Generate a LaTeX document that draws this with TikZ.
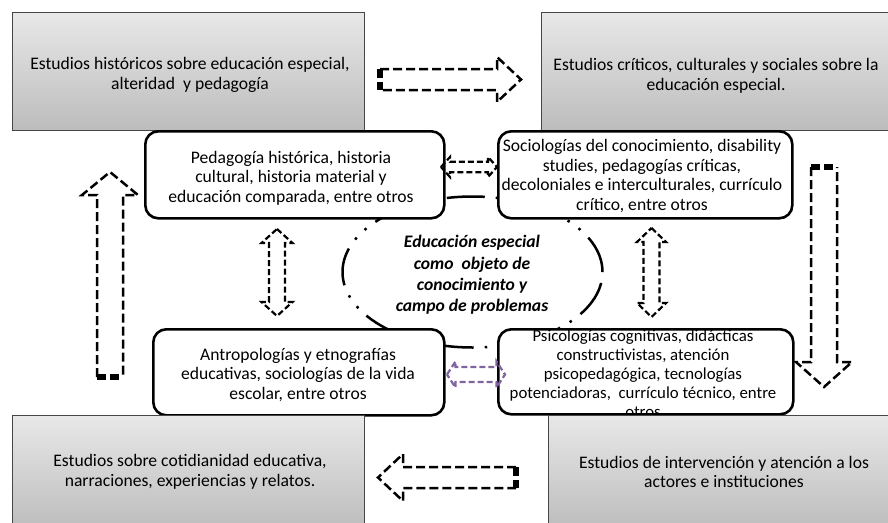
\documentclass[tikz,border=0pt]{standalone}
\usepackage{fontspec}
\setmainfont{Carlito}
\definecolor{glight}{RGB}{232,232,232}
\definecolor{gdark}{RGB}{188,188,188}
\definecolor{gedge}{RGB}{70,70,70}
\definecolor{lilac}{RGB}{128,100,162}
\tikzset{
  graybox/.style={draw=gedge, line width=0.9pt, inner sep=0pt, anchor=north west, top color=glight, bottom color=gdark},
  rbox/.style={draw=black, fill=white, line width=2.6pt, rounded corners=13pt, inner sep=0pt, anchor=north west},
  txt/.style={align=center, inner sep=0pt, font=\fontsize{17.6pt}{19.5pt}\selectfont},
  txtsmall/.style={align=center, inner sep=0pt, font=\fontsize{16.8pt}{19pt}\selectfont},
  etxt/.style={align=center, inner sep=0pt, font=\fontsize{17.6pt}{21.3pt}\selectfont\bfseries\itshape},
  ellipsedash/.style={draw=black, line width=2.5pt, dash pattern=on 38pt off 11pt on 2.5pt off 11pt on 2.5pt off 11pt},
  bigarrow/.style={draw=black, line width=2.5pt, dash pattern=on 9pt off 4pt, line join=miter},
  smallarrow/.style={draw=black, line width=2.2pt, dash pattern=on 6pt off 3pt, line join=miter},
  tailmark/.style={draw=black, line width=6pt, dash pattern=on 9pt off 4pt on 9pt},
}
\begin{document}
\begin{tikzpicture}[x=1pt,y=-1pt]
\useasboundingbox (0,0) rectangle (888,522);

% top gray boxes
\node[graybox, minimum width=352pt, minimum height=118pt] (gTL) at (12,12) {};
\node[graybox, minimum width=360pt, minimum height=118pt] (gTR) at (541,12) {};

% central ellipse
\draw[ellipsedash] (472.5,272) ellipse [x radius=130pt, y radius=75.5pt];

% rounded boxes
\node[rbox, minimum width=299pt, minimum height=87pt] (rTL) at (144,130) {};
\node[rbox, minimum width=294pt, minimum height=87pt] (rTR) at (497,130) {};
\node[rbox, minimum width=291pt, minimum height=86pt] (rBL) at (152,328) {};
\node[rbox, minimum width=295pt, minimum height=85pt] (rBR) at (497,328) {};

% texts
\node[txt] (tTL) at (190,75) {Estudios históricos sobre educación especial,\\alteridad\ \ y pedagogía};
\node[txt] (tTR) at (716,76) {Estudios críticos, culturales y sociales sobre la\\educación especial.};
\node[txt] (trTL) at (291,178) {Pedagogía histórica, historia\\cultural, historia material y\\educación comparada, entre otros};
\node[txt] (trTR) at (642,176) {Sociologías del conocimiento, disability\\studies, pedagogías críticas,\\decoloniales e interculturales, currículo\\crítico, entre otros};
\node[txt] (trBL) at (298,375) {Antropologías y etnografías\\educativas, sociologías de la vida\\escolar, entre otros};
\node[txtsmall] (trBR) at (643,374) {Psicologías cognitivas, didácticas\\constructivistas, atención\\psicopedagógica, tecnologías\\potenciadoras,\ \ currículo técnico, entre\\otros};
\node[etxt] (tE) at (472,275) {Educación especial\\como\ \ objeto de\\conocimiento y\\campo de problemas};

% bottom gray boxes (drawn over overflowing text)
\node[graybox, minimum width=352pt, minimum height=115pt] (gBL) at (12,415) {};
\node[graybox, minimum width=345pt, minimum height=115pt] (gBR) at (548,415) {};
\node[txt] (tBL) at (190,472) {Estudios sobre cotidianidad educativa,\\narraciones, experiencias y relatos.};
\node[txt] (tBR) at (724,472) {Estudios de intervención y atención a los\\actores e instituciones};

% big block arrows
\coordinate (a1t1) at (380,69); \coordinate (a1t2) at (380,90);
\draw[bigarrow] (a1t1) -- (497,69) -- (497,57) -- (521,79.5) -- (497,102) -- (497,90) -- (a1t2);
\draw[tailmark] (a1t1) -- (a1t2);

\coordinate (a2t1) at (811,167); \coordinate (a2t2) at (837,167);
\draw[bigarrow] (a2t1) -- (811,362) -- (796,362) -- (824,387) -- (852,362) -- (837,362) -- (a2t2);
\draw[tailmark] (a2t1) -- (a2t2);

\coordinate (a3t1) at (516,467); \coordinate (a3t2) at (516,488);
\draw[bigarrow] (a3t1) -- (403,467) -- (403,454) -- (378,477.5) -- (403,501) -- (403,488) -- (a3t2);
\draw[tailmark] (a3t1) -- (a3t2);

\coordinate (a4t1) at (97,377); \coordinate (a4t2) at (123,377);
\draw[bigarrow] (a4t1) -- (97,195) -- (82,195) -- (110,172) -- (138,195) -- (123,195) -- (a4t2);
\draw[tailmark] (a4t1) -- (a4t2);

% small double arrows
\draw[smallarrow] (441,167) -- (450,157) -- (450,161.7) -- (488,161.7) -- (488,157) -- (497,167) -- (488,177) -- (488,172.3) -- (450,172.3) -- (450,177) -- cycle;
\draw[smallarrow, draw=lilac] (447,374.5) -- (455.5,361.5) -- (455.5,367) -- (496.5,367) -- (496.5,361.5) -- (505,374.5) -- (496.5,387.5) -- (496.5,382) -- (455.5,382) -- (455.5,387.5) -- cycle;
\draw[smallarrow] (277,229) -- (292.5,243) -- (285,243) -- (285,302) -- (292.5,302) -- (277,316) -- (261.5,302) -- (269,302) -- (269,243) -- (261.5,243) -- cycle;
\draw[smallarrow] (651.5,228) -- (666,242) -- (659.5,242) -- (659.5,303) -- (666,303) -- (651.5,317) -- (637,303) -- (643.5,303) -- (643.5,242) -- (637,242) -- cycle;
\end{tikzpicture}
\end{document}
